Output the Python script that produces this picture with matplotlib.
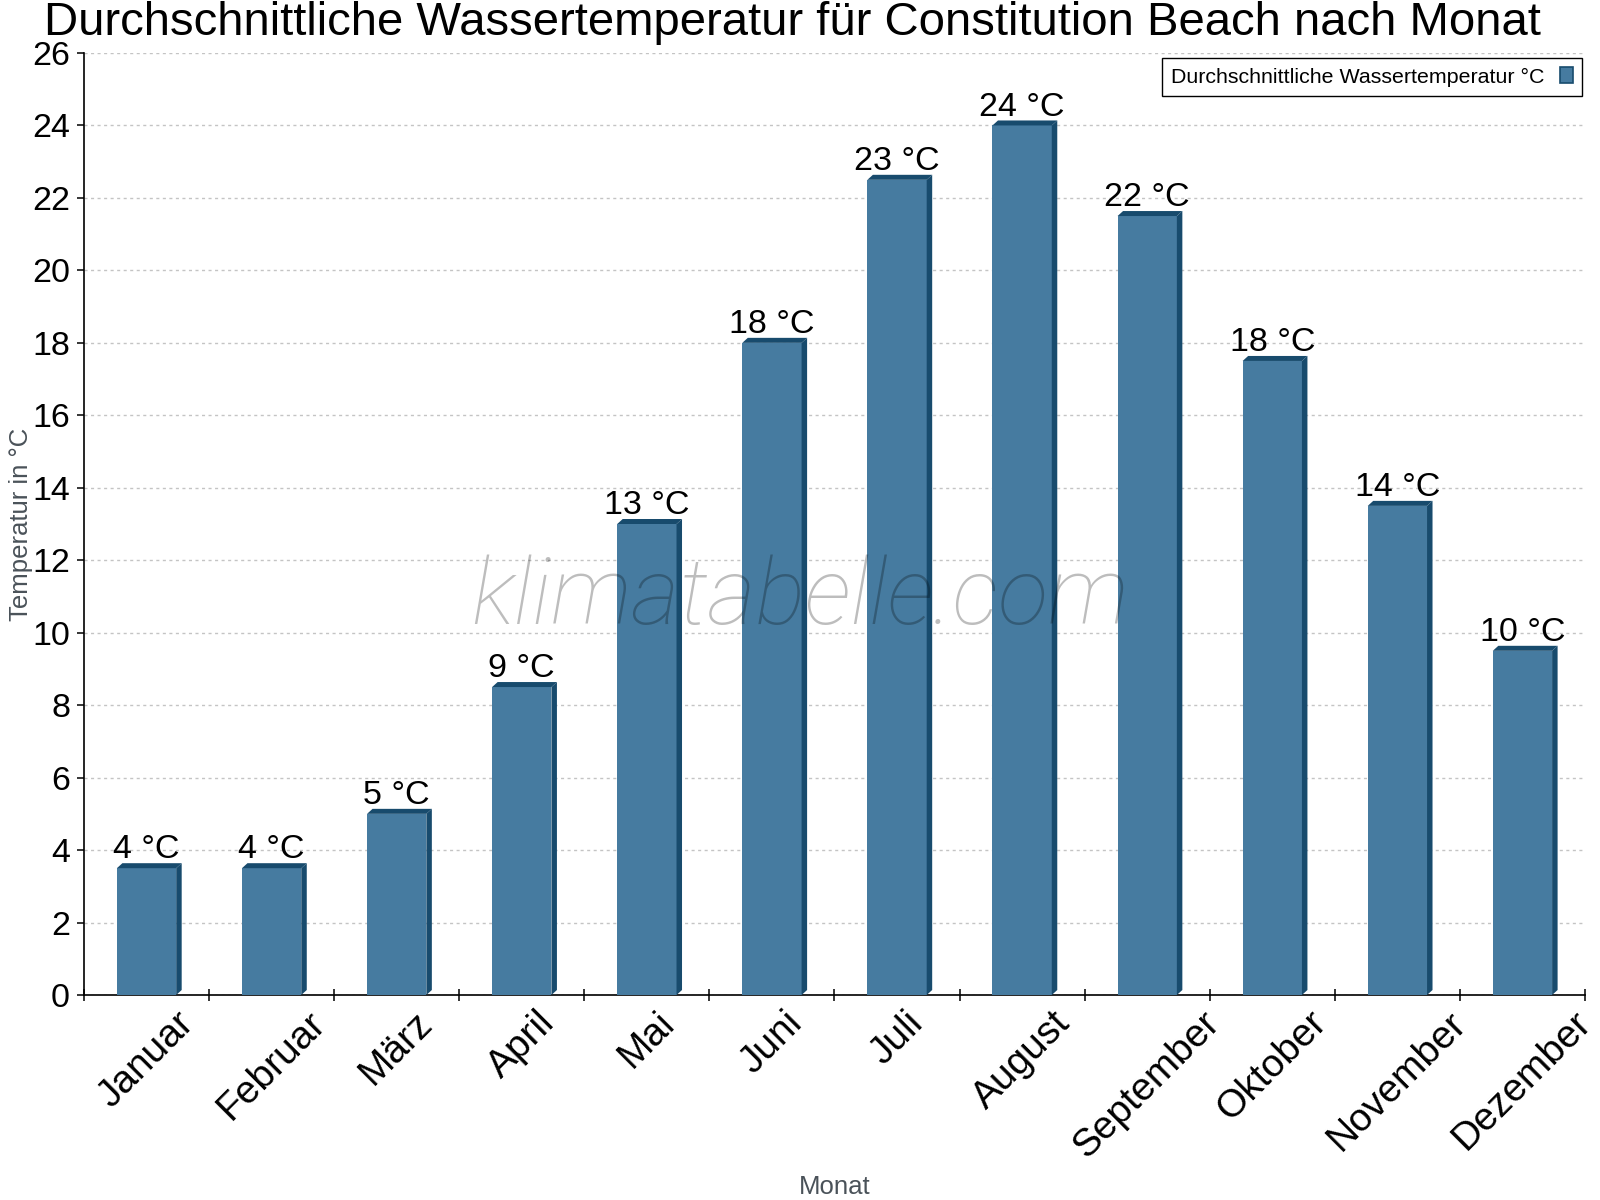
import matplotlib
matplotlib.use('Agg')
import matplotlib.pyplot as plt
import numpy as np
from matplotlib.patches import Polygon, Patch

months = ['Januar', 'Februar', 'März', 'April', 'Mai', 'Juni', 'Juli',
          'August', 'September', 'Oktober', 'November', 'Dezember']
water_temp = [3.5, 3.5, 5, 8.5, 13, 18, 22.5, 24, 21.5, 17.5, 13.5, 9.5]
value_labels = ['4 °C', '4 °C', '5 °C', '9 °C', '13 °C', '18 °C', '23 °C',
                '24 °C', '22 °C', '18 °C', '14 °C', '10 °C']
y_ticks = list(range(0, 27, 2))
legend_label = 'Durchschnittliche Wassertemperatur °C'
title = 'Durchschnittliche Wassertemperatur für Constitution Beach nach Monat'

plt.rcParams['font.family'] = ['Liberation Sans', 'DejaVu Sans']

W, H = 1600, 1200
fig = plt.figure(figsize=(16, 12), dpi=100)
L, R, T, B = 84, 1585, 53, 995
ax = fig.add_axes([L / W, 1 - B / H, (R - L) / W, (B - T) / H])
ax.set_xlim(-0.5, 11.5)
ax.set_ylim(0, 26)

front = '#467ba0'
dark = '#184b6d'
gray = '#4a5259'

bars = ax.bar(range(len(months)), water_temp, width=0.474, color=front, zorder=3)

dx = 5.5 * 12 / (R - L)
dy = 5.0 * 26 / (B - T)
for b, lab in zip(bars, value_labels):
    x0 = b.get_x()
    x1 = x0 + b.get_width()
    h = b.get_height()
    ax.add_patch(Polygon([(x0, h), (x0 + dx, h + dy), (x1 + dx, h + dy), (x1, h)],
                         closed=True, fc=dark, ec='none', zorder=3))
    ax.add_patch(Polygon([(x1, 0), (x1, h), (x1 + dx, h + dy), (x1 + dx, dy)],
                         closed=True, fc=dark, ec='none', zorder=3))
    ax.annotate(lab, (x0 + b.get_width() / 2, h + dy), xytext=(0, 3.5),
                textcoords='offset points', ha='center', va='baseline',
                fontsize=24.5, color='black', zorder=5)

ax.set_xticks(range(len(months)))
ax.set_xticklabels(months, rotation=45, ha='center', fontsize=28)
ax.set_xticks(np.arange(-0.5, len(months), 1), minor=True)
ax.tick_params(axis='x', which='major', length=0, pad=7)
ax.tick_params(axis='x', which='minor', direction='inout', length=9, width=1.1)

ax.set_yticks(y_ticks)
ax.set_yticklabels([str(v) for v in y_ticks], fontsize=24.5)
ax.tick_params(axis='y', length=5, width=1.1, pad=5, direction='out')

ax.yaxis.grid(True, linestyle=(0, (2.2, 2.5)), color='#c4c4c4', lw=1)
ax.set_axisbelow(True)
for s in ['top', 'right']:
    ax.spines[s].set_visible(False)
for s in ['left', 'bottom']:
    ax.spines[s].set_linewidth(1.2)
    ax.spines[s].set_color('black')

handle = Patch(facecolor=front, edgecolor=dark, linewidth=1.2)
leg = ax.legend([handle], [legend_label], loc='upper right',
                bbox_to_anchor=(1582 / W, 1 - 58 / H), bbox_transform=fig.transFigure,
                borderaxespad=0, markerfirst=False, fancybox=False, framealpha=1,
                edgecolor='black', fontsize=15.4, handlelength=0.62, handleheight=0.8,
                handletextpad=0.7, borderpad=0.42)
leg.get_frame().set_linewidth(1.0)
leg.set_zorder(10)

fig.text(792 / W, 1 - 35 / H, title, ha='center', va='baseline', fontsize=34)
fig.text(21 / W, 1 - 524 / H, 'Temperatur in °C', rotation=90, ha='center',
         va='center', fontsize=18.5, color=gray)
fig.text(835 / W, 1 - 1194 / H, 'Monat', ha='center', va='baseline',
         fontsize=18.5, color=gray)
fig.text(800 / W, 1 - 624 / H, 'klimatabelle.com', ha='center', va='baseline',
         fontsize=67, family='Roboto', fontstyle='italic', fontweight='light',
         color=(0, 0, 0, 0.26), zorder=20)

fig.savefig('out.png', dpi=100)
